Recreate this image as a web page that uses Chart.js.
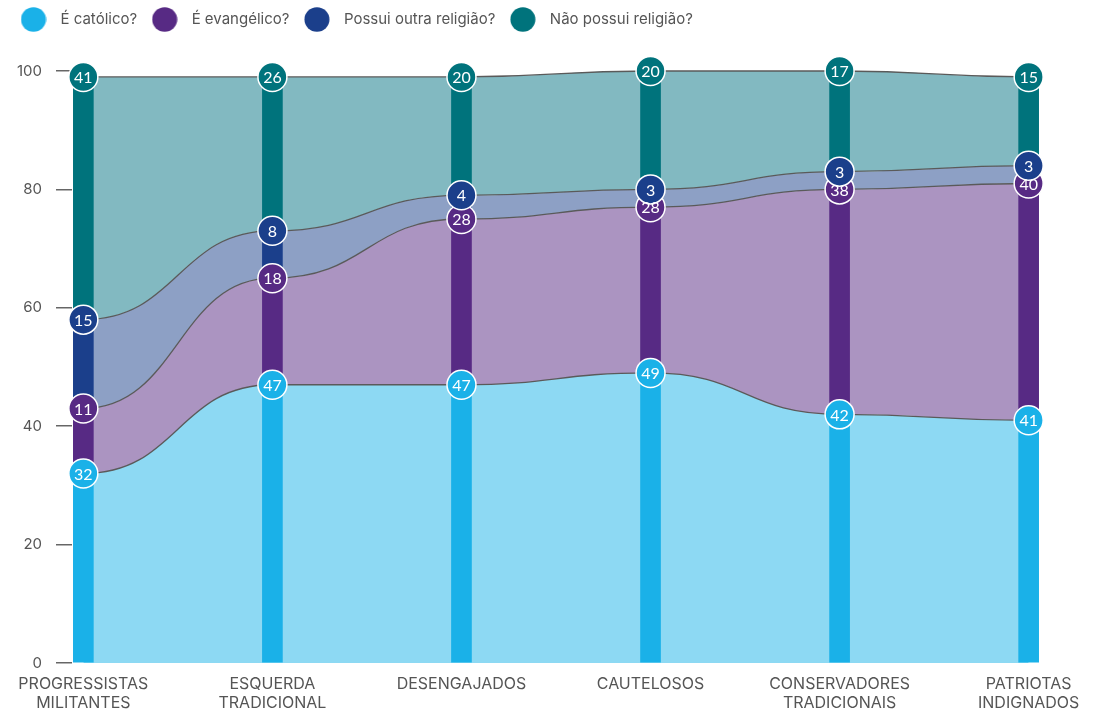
<!DOCTYPE html>
<html>
<head>
<meta charset="utf-8">
<script src="https://cdn.jsdelivr.net/npm/chart.js@4.4.1/dist/chart.umd.min.js"></script>
<style>
  html, body { margin: 0; padding: 0; background: #ffffff; }
  #wrap { width: 1103px; height: 714px; position: relative; }
</style>
</head>
<body>
<div id="wrap"><canvas id="c" width="1103" height="714"></canvas></div>
<script>
// ---- data ----
const categories = [
  ['PROGRESSISTAS', 'MILITANTES'],
  ['ESQUERDA', 'TRADICIONAL'],
  ['DESENGAJADOS'],
  ['CAUTELOSOS'],
  ['CONSERVADORES', 'TRADICIONAIS'],
  ['PATRIOTAS', 'INDIGNADOS']
];
const seriesNames = ['É católico?', 'É evangélico?', 'Possui outra religião?', 'Não possui religião?'];
const catolico    = [32, 47, 47, 49, 42, 41];
const evangelico  = [11, 18, 28, 28, 38, 40];
const outraReligiao = [15, 8, 4, 3, 3, 3];
const semReligiao = [41, 26, 20, 20, 17, 15];
const yTickValues = [0, 20, 40, 60, 80, 100];

// ---- styles ----
const barColors  = ['#1AB1E8', '#572A84', '#1B3F8B', '#00737C'];
const areaColors = ['#8DD9F3', '#AB94C1', '#8DA0C5', '#82B9C1'];
const lineColor = '#5a5a5a';
const textGray = '#555555';
Chart.defaults.font.family = 'Inter, "Noto Sans", sans-serif';

const series = [catolico, evangelico, outraReligiao, semReligiao];

// cumulative boundaries built from the series
const lower = [], upper = [];
series.forEach((vals, s) => {
  lower.push(vals.map((v, i) => s === 0 ? 0 : upper[s - 1][i]));
  upper.push(vals.map((v, i) => lower[s][i] + v));
});

// legend dots
function dot(color) {
  const c = document.createElement('canvas');
  c.width = 26; c.height = 25;
  const g = c.getContext('2d');
  g.fillStyle = color;
  g.beginPath();
  g.ellipse(13, 12.5, 12.5, 12.2, 0, 0, Math.PI * 2);
  g.fill();
  return c;
}
const dots = barColors.map(dot);

const lineDatasets = series.map((vals, s) => ({
  type: 'line',
  label: seriesNames[s],
  data: vals.map((v, i) => ({ x: i, y: upper[s][i] })),
  fill: s === 0 ? 'origin' : '-1',
  backgroundColor: areaColors[s],
  borderColor: lineColor,
  borderWidth: 1.3,
  tension: 0.4,
  pointRadius: 14.5,
  pointBackgroundColor: barColors[s],
  pointBorderColor: '#ffffff',
  pointBorderWidth: 1.5,
  pointHoverRadius: 14.5,
  clip: false,
  order: 4 - s
}));

const barDatasets = series.map((vals, s) => ({
  type: 'bar',
  label: seriesNames[s] + ' (barra)',
  data: vals.map((v, i) => ({ x: i, y: [lower[s][i], upper[s][i]] })),
  backgroundColor: barColors[s],
  borderWidth: 0,
  borderSkipped: false,
  barThickness: 20,
  grouped: false,
  order: 10
}));

// smooth horizontal-tangent curves between the library's point positions
const bumpPlugin = {
  id: 'bump',
  afterDatasetsUpdate(chart) {
    chart.data.datasets.forEach((ds, di) => {
      const meta = chart.getDatasetMeta(di);
      if (meta.type !== 'line') return;
      meta.dataset.updateControlPoints(chart.chartArea, 'x');
      const pts = meta.data;
      for (let i = 0; i < pts.length; i++) {
        const p = pts[i], prev = pts[i - 1], next = pts[i + 1];
        if (prev) { p.cp1x = (prev.x + p.x) / 2; p.cp1y = p.y; }
        if (next) { p.cp2x = (p.x + next.x) / 2; p.cp2y = p.y; }
      }
    });
  }
};

// value labels inside the circles
const valueLabels = {
  id: 'valueLabels',
  afterDatasetsDraw(chart) {
    const ctx = chart.ctx;
    ctx.save();
    ctx.font = '16px Lato, "Noto Sans", sans-serif';
    ctx.fillStyle = '#ffffff';
    ctx.textAlign = 'center';
    ctx.textBaseline = 'middle';
    for (let s = series.length - 1; s >= 0; s--) {
      const meta = chart.getDatasetMeta(s);
      meta.data.forEach((el, i) => {
        ctx.fillText(String(series[s][i]), el.x, el.y + 1);
      });
    }
    ctx.restore();
  }
};

new Chart(document.getElementById('c'), {
  data: { datasets: [...lineDatasets, ...barDatasets] },
  options: {
    responsive: false,
    animation: false,
    events: [],
    layout: { padding: { top: 4, left: 6, right: 63, bottom: 0 } },
    plugins: {
      filler: { drawTime: 'beforeDatasetsDraw' },
      tooltip: { enabled: false },
      title: { display: true, text: '', font: { size: 1 }, padding: { top: 0, bottom: 32.8 } },
      legend: {
        position: 'top',
        align: 'start',
        weight: 3000,
        labels: {
          usePointStyle: true,
          pointStyleWidth: 39,
          padding: 8,
          color: textGray,
          font: { size: 15 },
          generateLabels: () => seriesNames.map((name, i) => ({
            text: name,
            pointStyle: dots[i],
            fillStyle: barColors[i],
            strokeStyle: barColors[i],
            lineWidth: 0,
            hidden: false,
            datasetIndex: i,
            fontColor: textGray
          }))
        }
      }
    },
    scales: {
      x: {
        type: 'linear',
        offset: false,
        min: -0.06,
        max: 5.06,
        afterBuildTicks: (scale) => { scale.ticks = categories.map((c, i) => ({ value: i })); },
        afterFit: (scale) => { scale.height = 51; },
        grid: { display: false, drawTicks: false, offset: false },
        border: { display: false },
        ticks: {
          autoSkip: false,
          maxRotation: 0,
          padding: 11,
          color: textGray,
          font: { size: 16, lineHeight: 1.22 },
          callback: (v) => categories[v] || ''
        }
      },
      y: {
        type: 'linear',
        min: 0,
        max: 100,
        afterBuildTicks: (scale) => { scale.ticks = yTickValues.map(v => ({ value: v })); },
        afterFit: (scale) => { scale.width = 66; },
        grid: { display: true, drawOnChartArea: false, drawTicks: true, tickLength: 16, color: '#666666', lineWidth: 1.5 },
        border: { display: false },
        ticks: { padding: 14, color: textGray, font: { size: 15 } }
      }
    }
  },
  plugins: [bumpPlugin, valueLabels]
});
</script>
</body>
</html>
